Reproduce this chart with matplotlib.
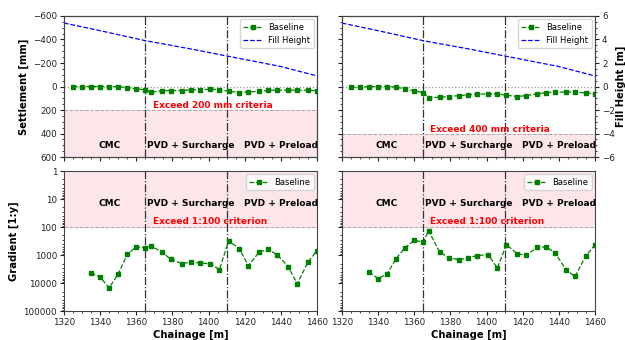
import matplotlib
matplotlib.use('Agg')
import matplotlib.pyplot as plt
from matplotlib.ticker import AutoMinorLocator, MultipleLocator, FuncFormatter, LogLocator

plt.rcParams['font.size'] = 6.3

chainage = [1325, 1330, 1335, 1340, 1345, 1350, 1355, 1360, 1365, 1368, 1374, 1379, 1385,
            1390, 1395, 1401, 1406, 1411, 1417, 1422, 1428, 1433, 1438, 1444, 1449, 1455, 1460]
settle_left = [0, 0, 0, 0, 0, 0, 10, 20, 28, 48, 37, 34, 34,
               28, 28, 23, 26, 40, 51, 46, 40, 31, 31, 31, 31, 31, 37]
settle_right = [8, 8, 0, 0, 0, 5, 20, 37, 51, 94, 91, 85, 77,
                71, 65, 63, 63, 74, 85, 77, 63, 51, 48, 46, 48, 54, 60]

grad_chainage = chainage[2:]
grad_left = [4300, 6200, 14700, 4700, 930, 510, 550, 470, 770, 1400, 2000, 1800,
             1900, 2050, 3300, 310, 590, 2400, 770, 630, 990, 2600, 10600, 1750, 690]
grad_right = [4000, 6900, 4700, 1330, 540, 300, 340, 134, 770, 1230, 1480, 1230,
              1040, 960, 2940, 420, 910, 1000, 530, 510, 840, 3400, 5800, 1040, 440]

fill_chainage = [1320, 1340, 1365, 1390, 1410, 1440, 1460]
fill_height = [5.4, 4.75, 3.9, 3.2, 2.6, 1.7, 0.9]

zones = ['CMC', 'PVD + Surcharge', 'PVD + Preload']
zone_x = [1345, 1390, 1440]
boundaries = [1365, 1410]
criteria = [200, 400]

fig = plt.figure(figsize=(6.25, 3.4), dpi=100)
lefts = [0.1024, 0.547]
w = 0.405
spine_col = '#444444'
pink = '#fde6ea'
zfs = 6.5
lfs = 7.2


def style(ax):
    for s in ax.spines.values():
        s.set_color(spine_col)
    ax.tick_params(colors='#222222', which='both', direction='out', pad=2)
    ax.tick_params(which='major', length=3, width=0.8)
    ax.tick_params(which='minor', length=1.6, width=0.6)


for i, (settle, crit, grad) in enumerate(zip([settle_left, settle_right], criteria, [grad_left, grad_right])):
    # settlement
    ax = fig.add_axes([lefts[i], 0.538, w, 0.415])
    ax.set_xlim(1320, 1460)
    ax.set_ylim(600, -600)
    ax.axhspan(crit, 600, color=pink, zorder=0)
    ax.axhline(crit, color='#aaaaaa', ls='--', lw=0.7)
    ax.axhline(0, color='#999999', ls=':', lw=0.9)
    for b in boundaries:
        ax.axvline(b, color='#333333', ls='-.', lw=0.9)
    l1, = ax.plot(chainage, settle, 'gs--', ms=3.3, lw=0.9, label='Baseline')
    for zx, zt in zip(zone_x, zones):
        ax.text(zx, 500, zt, ha='center', va='center', fontweight='bold', fontsize=zfs)
    ax.text(1369, crit - 38, f'Exceed {crit} mm criteria', color='red',
            fontweight='bold', fontsize=zfs, va='center')
    ax.yaxis.set_major_locator(MultipleLocator(200))
    ax.yaxis.set_minor_locator(AutoMinorLocator())
    ax.xaxis.set_major_locator(MultipleLocator(20))
    ax.xaxis.set_minor_locator(MultipleLocator(5))
    ax.set_xticklabels([])
    style(ax)
    tw = ax.twinx()
    tw.set_ylim(-6, 6)
    l2, = tw.plot(fill_chainage, fill_height, 'b--', lw=0.9, label='Fill Height')
    tw.yaxis.set_major_locator(MultipleLocator(2))
    tw.yaxis.set_minor_locator(AutoMinorLocator())
    style(tw)
    if i == 0:
        ax.set_ylabel('Settlement [mm]', fontweight='bold', fontsize=lfs, labelpad=3)
        tw.set_yticks([])
        tw.yaxis.set_minor_locator(plt.NullLocator())
    else:
        ax.set_yticklabels([])
        tw.set_ylabel('Fill Height [m]', fontweight='bold', fontsize=lfs, labelpad=1)
    ax.legend([l1, l2], ['Baseline', 'Fill Height'], loc='upper right', fontsize=6,
              handlelength=2.2, borderaxespad=0.4)

    # gradient
    bx = fig.add_axes([lefts[i], 0.085, w, 0.412])
    bx.set_xlim(1320, 1460)
    bx.set_yscale('log')
    bx.set_ylim(100000, 1)
    bx.axhspan(1, 100, color=pink, zorder=0)
    bx.axhline(100, color='#aaaaaa', ls='--', lw=0.7)
    for b in boundaries:
        bx.axvline(b, color='#333333', ls='-.', lw=0.9)
    bx.plot(grad_chainage, grad, 'gs--', ms=3.3, lw=0.9, label='Baseline')
    for zx, zt in zip(zone_x, zones):
        bx.text(zx, 14, zt, ha='center', va='center', fontweight='bold', fontsize=zfs)
    bx.text(1369, 62, 'Exceed 1:100 criterion', color='red',
            fontweight='bold', fontsize=zfs, va='center')
    bx.yaxis.set_major_locator(LogLocator(base=10))
    bx.yaxis.set_major_formatter(FuncFormatter(lambda v, p: f'{int(round(v))}'))
    bx.xaxis.set_major_locator(MultipleLocator(20))
    bx.xaxis.set_minor_locator(MultipleLocator(5))
    bx.set_xlabel('Chainage [m]', fontweight='bold', fontsize=lfs, labelpad=2)
    style(bx)
    if i == 0:
        bx.set_ylabel('Gradient [1:y]', fontweight='bold', fontsize=lfs, labelpad=3)
    else:
        bx.set_yticklabels([])
    bx.legend(loc='upper right', fontsize=6, handlelength=2.2, borderaxespad=0.4)

fig.savefig('out.png', dpi=100)
